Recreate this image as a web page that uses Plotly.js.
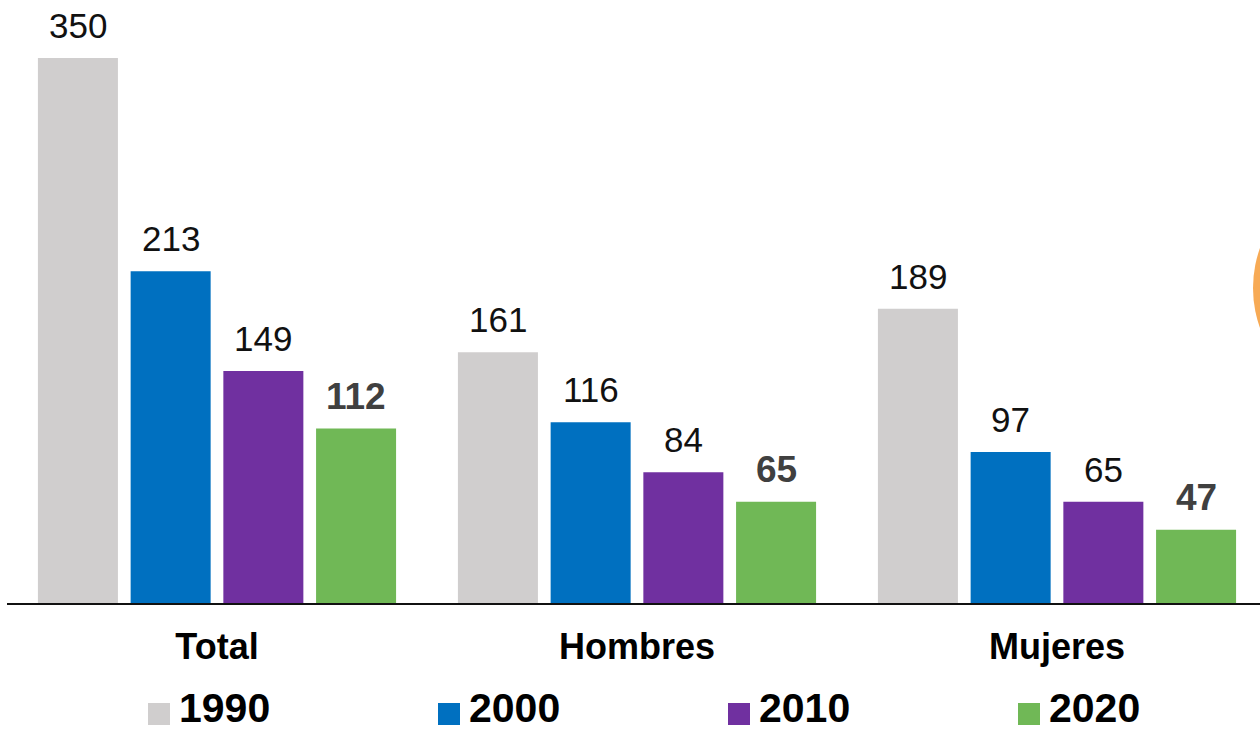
<!DOCTYPE html>
<html>
<head>
<meta charset="utf-8">
<script src="https://cdn.plot.ly/plotly-3.0.1.min.js"></script>
<style>html,body{margin:0;padding:0;background:#fff;}#chart{width:1260px;height:731px;}</style>
</head>
<body>
<div id="chart"></div>
<script>
const categories = ["Total", "Hombres", "Mujeres"];
const years = ["1990", "2000", "2010", "2020"];
const v1990 = [350, 161, 189];
const v2000 = [213, 116, 97];
const v2010 = [149, 84, 65];
const v2020 = [112, 65, 47];
const colors = ["#D0CECE", "#0070C0", "#7030A0", "#70B856"];

const series = [v1990, v2000, v2010, v2020];
const xs = categories.map((c, i) => i);
const bargap = 0.117;
const nT = series.length;
const slot = (1 - bargap) / nT;
const FONT = "Liberation Sans, Arial, sans-serif";

const traces = series.map((vals, ti) => ({
  type: "bar",
  x: xs,
  y: vals,
  name: years[ti],
  marker: {color: colors[ti]},
  showlegend: false,
  hoverinfo: "none"
}));

const annotations = [];
series.forEach((vals, ti) => {
  const last = ti === nT - 1;
  vals.forEach((v, gi) => {
    annotations.push({
      x: gi + (ti - (nT - 1) / 2) * slot,
      y: v,
      xref: "x", yref: "y",
      text: last ? "<b>" + v + "</b>" : String(v),
      showarrow: false,
      yanchor: "bottom",
      yshift: last ? 10 : 11,
      font: {family: FONT, size: last ? 37 : 35, color: last ? "#404040" : "#111111"}
    });
  });
});

// manual legend
const legendStart = 148, legendStep = 290, W = 1253, L = 7;
const shapes = [];
years.forEach((y, i) => {
  const x0 = legendStart + i * legendStep;
  shapes.push({
    type: "rect", xref: "paper", yref: "paper",
    x0: (x0 - L) / W, x1: (x0 + 22 - L) / W,
    y0: (603 - 725) / 603, y1: (603 - 703) / 603,
    fillcolor: colors[i], line: {width: 0}
  });
  annotations.push({
    xref: "paper", yref: "paper",
    x: (x0 + 31 - L) / W, y: (603 - 731) / 603,
    xanchor: "left", yanchor: "bottom",
    borderpad: 0, borderwidth: 0,
    text: "<b>" + y + "</b>", showarrow: false,
    font: {family: FONT, size: 41, color: "#000"}
  });
});
// orange circle partially visible at right edge
shapes.push({
  type: "circle", xref: "paper", yref: "paper",
  x0: (1253 - L) / W, x1: (1489 - L) / W,
  y0: (603 - 406) / 603, y1: (603 - 170) / 603,
  fillcolor: "#F7AA55", line: {width: 0}
});

const layout = {
  width: 1260, height: 731,
  margin: {l: 7, r: 0, t: 0, b: 128},
  paper_bgcolor: "#fff", plot_bgcolor: "#fff",
  barmode: "group", bargap: bargap, bargroupgap: 0.137,
  xaxis: {
    range: [-0.5, -0.5 + 1253 / 420],
    tickvals: xs, ticktext: categories.map(c => "<b>" + c + "</b>"),
    tickfont: {family: FONT, size: 36, color: "#000"},
    showline: true, linecolor: "#111", linewidth: 2,
    ticks: "", showgrid: false, zeroline: false, fixedrange: true,
    ticklabelstandoff: 11
  },
  yaxis: {
    range: [0, 603 / (545 / 350)],
    visible: false, showgrid: false, zeroline: false, fixedrange: true
  },
  annotations: annotations,
  shapes: shapes,
  showlegend: false
};

Plotly.newPlot("chart", traces, layout, {displayModeBar: false, staticPlot: true});
</script>
</body>
</html>
